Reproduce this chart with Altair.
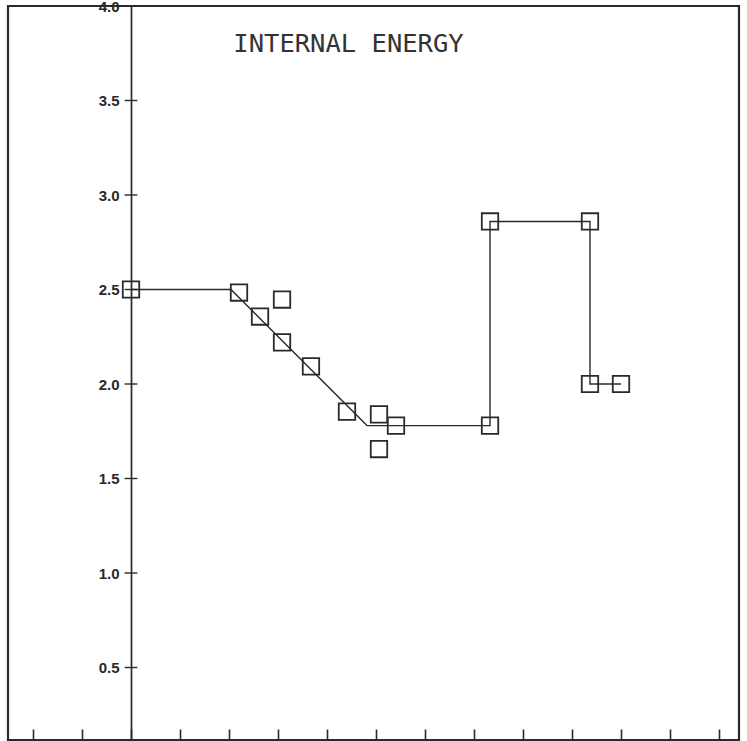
import altair as alt
import pandas as pd

# ---- data ----
point_x = [0.0, 2.204, 2.633, 3.082, 3.082, 3.673, 4.408, 5.061, 5.408, 5.061, 7.327, 7.327, 9.367, 9.367, 10.0]
point_y = [2.5, 2.484, 2.357, 2.447, 2.22, 2.093, 1.854, 1.839, 1.78, 1.656, 1.78, 2.86, 2.86, 2.0, 2.0]

line_x = [0.0, 2.04, 4.816, 7.327, 7.327, 9.367, 9.367, 10.0]
line_y = [2.5, 2.5, 1.78, 1.78, 2.86, 2.86, 2.0, 2.0]

y_tick_values = [0.5, 1.0, 1.5, 2.0, 2.5, 3.0, 3.5, 4.0]
x_tick_values = [-2, -1, 0, 1, 2, 3, 4, 5, 6, 7, 8, 9, 10, 11, 12]
title_text = "INTERNAL ENERGY"

# ---- layout ----
W, H = 731, 734
PX_X = 49.0      # pixels per x unit
PX_Y = 189.0     # pixels per y unit
X0 = 123         # pixel of x = 0 inside plot
x_dom = [-X0 / PX_X, (W - X0) / PX_X]
y_dom = [4.0 - H / PX_Y, 4.0]

xs = alt.Scale(domain=x_dom, nice=False, zero=False)
ys = alt.Scale(domain=y_dom, nice=False, zero=False)

pts = pd.DataFrame({"x": point_x, "y": point_y})
ln = pd.DataFrame({"x": line_x, "y": line_y, "i": list(range(len(line_x)))})
yt = pd.DataFrame({"y": y_tick_values})

ink = "#2a2a2a"

y_axis = alt.Axis(
    values=y_tick_values, format=".1f", orient="left", offset=-X0,
    ticks=False, grid=False, domainColor=ink, domainWidth=1.7,
    labelFont="Liberation Sans", labelFontWeight="bold", labelFontSize=15,
    labelColor=ink, labelPadding=12, title=None,
)
x_axis = alt.Axis(
    values=x_tick_values, orient="bottom", offset=-11, tickSize=11,
    tickWidth=1.6, tickColor=ink, domain=False, labels=False, grid=False,
    title=None,
)

base_line = alt.Chart(ln).mark_line(color=ink, strokeWidth=1.4).encode(
    x=alt.X("x:Q", scale=xs, axis=x_axis),
    y=alt.Y("y:Q", scale=ys, axis=y_axis),
    order="i:Q",
)

squares = alt.Chart(pts).mark_point(
    shape="square", filled=False, size=270, stroke=ink, strokeWidth=1.8, opacity=1
).encode(
    x=alt.X("x:Q", scale=xs),
    y=alt.Y("y:Q", scale=ys),
)

cross_ticks = alt.Chart(yt).mark_rule(color=ink, strokeWidth=1.4).encode(
    x=alt.X("a:Q", scale=xs),
    x2="b:Q",
    y=alt.Y("y:Q", scale=ys),
).transform_calculate(a="-0.13", b="0.13")

title = alt.Chart(pd.DataFrame({"t": [title_text]})).mark_text(
    font="DejaVu Sans Mono", fontSize=25.5, color="#333", align="center",
    baseline="middle",
).encode(
    text="t:N", x=alt.value(340.5), y=alt.value(38)
)

chart = alt.layer(base_line, cross_ticks, squares, title).properties(
    width=W, height=H,
    padding={"left": 8, "top": 6, "right": 8, "bottom": 1},
    autosize=alt.AutoSizeParams(type="none"),
    background="white",
).configure_view(stroke=ink, strokeWidth=2.2)

chart.save("out.html", embed_options={"renderer": "svg", "actions": False})
